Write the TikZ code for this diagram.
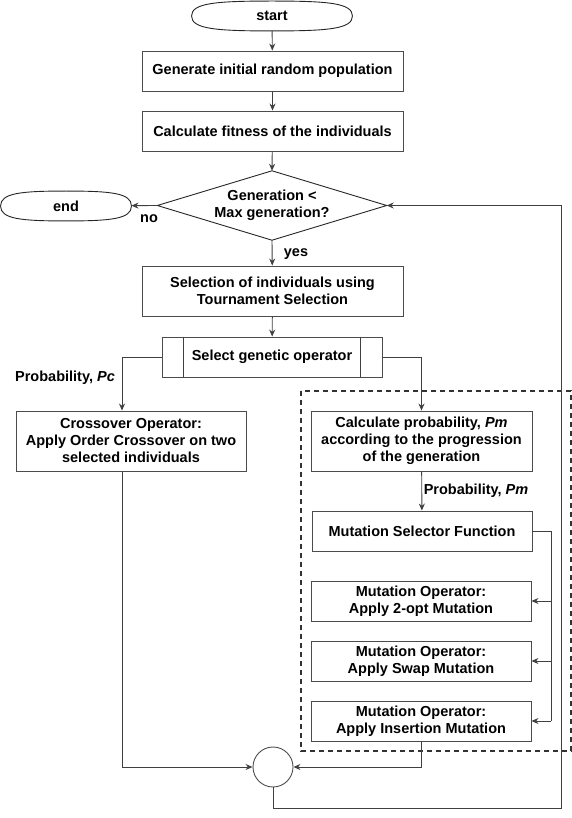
\documentclass[tikz,border=0pt]{standalone}
\usepackage{fontspec}
\setmainfont{Liberation Sans}
\usetikzlibrary{arrows.meta,positioning}

\tikzset{
  flow/.style={draw=black!75, line width=0.9pt, -{Stealth[length=7pt,width=6pt]}},
  wire/.style={draw=black!75, line width=0.9pt},
  box/.style={draw=black!70, line width=0.9pt, rectangle, inner sep=0pt, align=center,
    font=\fontsize{14.5}{17}\selectfont\bfseries},
  term/.style={box, draw=none, minimum width=160pt, minimum height=29pt},
  lbl/.style={inner sep=0pt, font=\fontsize{14.5}{17}\selectfont\bfseries}
}
% outline of a start/end node: #1 name, #2 pull of the curve
\newcommand{\termline}[2]{\draw[wire, draw=black!85] (#1.west)
  .. controls ([yshift=13pt]#1.west) and ([xshift=-#2]#1.north) .. (#1.north)
  .. controls ([xshift=#2]#1.north) and ([yshift=13pt]#1.east) .. (#1.east)
  .. controls ([yshift=-13pt]#1.east) and ([xshift=#2]#1.south) .. (#1.south)
  .. controls ([xshift=-#2]#1.south) and ([yshift=-13pt]#1.west) .. (#1.west);}

\begin{document}
\begin{tikzpicture}[x=1pt,y=-1pt]
\useasboundingbox (0,0) rectangle (572,818);

\node[term] (start) at (272,16) {start};
\termline{start}{56pt}
\node[box, minimum width=261pt, minimum height=40pt] (init) at (272.5,71) {Generate initial random population};
\node[box, minimum width=261pt, minimum height=40pt] (fit) at (272.5,131) {Calculate fitness of the individuals};

\node[lbl, minimum width=229pt, minimum height=69pt, align=center] (gen) at (272,205.5) {Generation <\\Max generation?};
\draw[wire, draw=black!85] (gen.north) -- (gen.east) -- (gen.south) -- (gen.west) -- cycle;
\node[term, minimum width=130pt] (end) at (66,206) {end};
\termline{end}{45pt}

\node[box, minimum width=261pt, minimum height=50pt] (sel) at (272.5,291) {Selection of individuals using\\Tournament Selection};
\node[box, minimum width=220pt, minimum height=40pt] (op) at (272,357) {Select genetic operator};
\draw[wire] ([xshift=22pt]op.north west) -- ([xshift=22pt]op.south west);
\draw[wire] ([xshift=-22pt]op.north east) -- ([xshift=-22pt]op.south east);

\node[box, minimum width=230pt, minimum height=60pt] (cross) at (131,441) {Crossover Operator:\\Apply Order Crossover on two\\selected individuals};
\node[box, minimum width=221pt, minimum height=60pt] (prob) at (421.5,441) {Calculate probability, \textit{Pm}\\according to the progression\\of the generation};

\node[box, minimum width=220pt, minimum height=40pt] (msel) at (422,531) {Mutation Selector Function};
\node[box, minimum width=220pt, minimum height=40pt] (twoopt) at (421,601) {Mutation Operator:\\Apply 2-opt Mutation};
\node[box, minimum width=220pt, minimum height=40pt] (swap) at (421,661) {Mutation Operator:\\Apply Swap Mutation};
\node[box, minimum width=220pt, minimum height=40pt] (ins) at (421,721) {Mutation Operator:\\Apply Insertion Mutation};

\node[draw=black!70, line width=0.9pt, circle, minimum size=40pt, inner sep=0pt] (join) at (273,767) {};

% dashed mutation block
\draw[black!80, line width=1.2pt, dash pattern=on 5pt off 4pt] (301,391) rectangle (571,751);

% labels
\node[lbl] (no) at (149,219) {no};
\node[lbl] (yes) at (296,254) {yes};
\node[lbl] (pc) at (65,378) {Probability, \textit{Pc}};
\node[lbl] (pm) at (476,491) {Probability, \textit{Pm}};

% connectors
\draw[flow] (start) -- (init);
\draw[flow] (init) -- (fit);
\draw[flow] (fit) -- (gen.north);
\draw[flow] (gen.west) -- (end);
\draw[flow] (gen.south) -- (sel);
\draw[flow] (sel) -- (op);
\draw[flow] (op.west) -| ([xshift=-9pt]cross.north);
\draw[flow] (op.east) -| (prob.north);
\draw[flow] (prob) -- (msel);

\coordinate (bus) at (551,531);
\draw[wire] (msel.east) -- (bus) -- (bus |- ins.east);
\draw[flow] (bus |- twoopt.east) -- (twoopt.east);
\draw[flow] (bus |- swap.east) -- (swap.east);
\draw[flow] (bus |- ins.east) -- (ins.east);

\draw[flow] ([xshift=-9pt]cross.south) |- (join.west);
\draw[flow] (ins.south) |- (join.east);

\coordinate (loop) at (561,808);
\draw[flow] (join.south) |- (loop) |- (gen.east);

\end{tikzpicture}
\end{document}
